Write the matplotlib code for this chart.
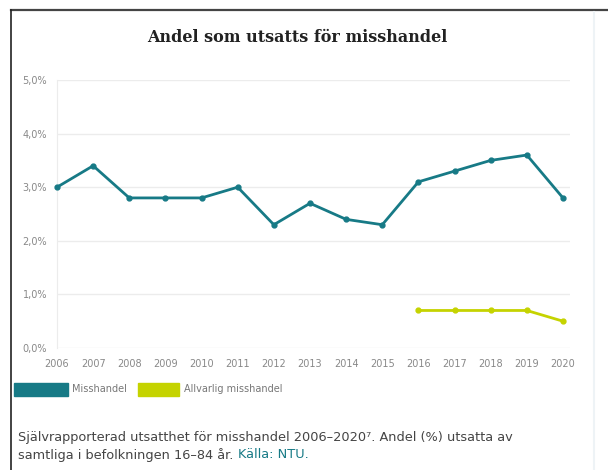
import matplotlib
matplotlib.use("Agg")
import matplotlib.pyplot as plt
from matplotlib.patches import Rectangle
from matplotlib.lines import Line2D

years = list(range(2006, 2021))
misshandel = [3.0, 3.4, 2.8, 2.8, 2.8, 3.0, 2.3, 2.7, 2.4, 2.3, 3.1, 3.3, 3.5, 3.6, 2.8]
allv_years = [2016, 2017, 2018, 2019, 2020]
allvarlig = [0.7, 0.7, 0.7, 0.7, 0.5]
yticks = [0, 1, 2, 3, 4, 5]
ytick_labels = ["0,0%", "1,0%", "2,0%", "3,0%", "4,0%", "5,0%"]

teal = "#177a86"
yellow = "#c5d300"

W, H = 608, 470
fig = plt.figure(figsize=(W / 100, H / 100), dpi=100)
fig.patch.set_facecolor("white")

# frame lines
fig.add_artist(Line2D([11 / W, 1.0], [1 - 10 / H, 1 - 10 / H], color="#444444", lw=1.6, transform=fig.transFigure))
fig.add_artist(Line2D([11 / W, 11 / W], [0, 1 - 10 / H], color="#222222", lw=1.2, transform=fig.transFigure))
fig.add_artist(Line2D([594 / W, 594 / W], [0, 1 - 12 / H], color="#eef3f6", lw=1.5, transform=fig.transFigure))

ax = fig.add_axes([57 / W, 1 - 348 / H, (570 - 57) / W, (348 - 80) / H])
ax.plot(years, misshandel, color=teal, lw=2, marker="o", ms=3.5, zorder=3, clip_on=False)
ax.plot(allv_years, allvarlig, color=yellow, lw=2, marker="o", ms=3.5, zorder=3, clip_on=False)

ax.set_ylim(0, 5)
ax.set_xlim(2006, 2020 + 7 / 36)
ax.set_yticks(yticks)
ax.set_yticklabels(ytick_labels)
ax.set_xticks(years)
ax.set_xticklabels([str(y) for y in years])
ax.grid(axis="y", color="#ececec", lw=1)
ax.set_axisbelow(True)
for s in ["top", "right", "bottom"]:
    ax.spines[s].set_visible(False)
ax.spines["left"].set_color("#ececec")
ax.tick_params(axis="both", length=0, labelsize=7, colors="#888888")
ax.tick_params(axis="y", pad=7)
ax.tick_params(axis="x", pad=8)

fig.text(297 / W, 1 - 37 / H, "Andel som utsatts för misshandel", ha="center", va="center",
         fontsize=11.5, fontweight="bold", color="#222222", family="DejaVu Serif")

# legend
fig.add_artist(Rectangle((14 / W, 1 - 396 / H), 54 / W, 13 / H, color=teal, transform=fig.transFigure))
fig.text(72 / W, 1 - 389 / H, "Misshandel", fontsize=7, color="#777777", va="center")
fig.add_artist(Rectangle((138 / W, 1 - 396 / H), 41 / W, 13 / H, color=yellow, transform=fig.transFigure))
fig.text(184 / W, 1 - 389 / H, "Allvarlig misshandel", fontsize=7, color="#777777", va="center")

# caption
cap1 = "Självrapporterad utsatthet för misshandel 2006–2020\u2077. Andel (%) utsatta av"
fig.text(18 / W, 1 - 437 / H, cap1, fontsize=9.3, color="#444444", va="center")
t2 = fig.text(18 / W, 1 - 455 / H, "samtliga i befolkningen 16–84 år. ", fontsize=9.3, color="#444444", va="center")
fig.canvas.draw()
bb = t2.get_window_extent()
fig.text(bb.x1 / W, 1 - 455 / H, "Källa: NTU.", fontsize=9.3, color=teal, va="center")

fig.savefig("out.png", dpi=100, facecolor="white")
